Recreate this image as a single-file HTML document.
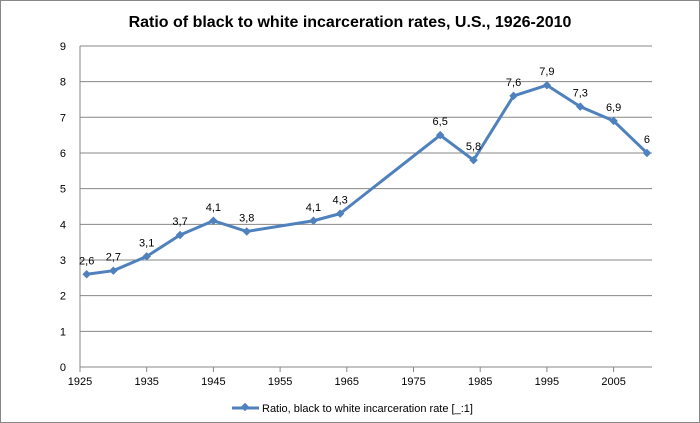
<!DOCTYPE html>
<html><head><meta charset="utf-8"><style>
body{margin:0;background:#fff}
svg{display:block;font-family:"Liberation Sans",sans-serif}
</style></head><body>
<svg id="c" width="700" height="423">
<rect x="0.5" y="0.5" width="699" height="422" fill="#fff" stroke="#888"/>
<text x="350" y="27" text-anchor="middle" font-size="16" font-weight="bold" fill="#000">Ratio of black to white incarceration rates, U.S., 1926-2010</text>
<g id="grid"></g><g id="axes"></g><g id="series"></g>
<g>
<line x1="232" y1="408" x2="259" y2="408" stroke="#4f81bd" stroke-width="3"/>
<rect x="242" y="404" width="6" height="6" fill="#4f81bd" transform="rotate(45 245 407)"/>
<text x="262" y="412" font-size="11">Ratio, black to white incarceration rate [_:1]</text>
</g>
</svg>
<script>
const years=[1926,1930,1935,1940,1945,1950,1960,1964,1979,1984,1990,1995,2000,2005,2010];
const values=[2.6,2.7,3.1,3.7,4.1,3.8,4.1,4.3,6.5,5.8,7.6,7.9,7.3,6.9,6];
const labels=["2,6","2,7","3,1","3,7","4,1","3,8","4,1","4,3","6,5","5,8","7,6","7,9","7,3","6,9","6"];
const xTicks=[1925,1935,1945,1955,1965,1975,1985,1995,2005];
const yTicks=[0,1,2,3,4,5,6,7,8,9];
const NS="http://www.w3.org/2000/svg";
const x=v=>80+(v-1925)*6.67;
const y=v=>367-v*35.67;
function mk(t,a,p){const e=document.createElementNS(NS,t);for(const k in a)e.setAttribute(k,a[k]);p.appendChild(e);return e;}
const g=document.getElementById('grid'),ax=document.getElementById('axes'),s=document.getElementById('series');
yTicks.forEach(v=>{
 const l=mk('line',{x1:80,x2:652,y1:y(v),y2:y(v),stroke:'#878787','stroke-width':1},g);
 
 
 const t=mk('text',{x:66,y:y(v)+4,'font-size':11,'text-anchor':'end'},ax);t.textContent=v;
 
 
});
mk('line',{x1:80,x2:80,y1:y(9),y2:y(0),stroke:'#878787'},ax);
xTicks.forEach(v=>{
 const t=mk('text',{x:x(v),y:385,'font-size':11,'text-anchor':'middle'},ax);t.textContent=v;
 
 
 mk('line',{x1:x(v),x2:x(v),y1:367,y2:372,stroke:'#878787'},ax);
});
const pts=years.map((yr,i)=>x(yr)+','+y(values[i])).join(' ');
const pl=mk('polyline',{points:pts,fill:'none',stroke:'#4f81bd','stroke-width':3,'stroke-linejoin':'round'},s);


years.forEach((yr,i)=>{
 const cx=x(yr),cy=y(values[i]);
 const m=mk('rect',{x:cx-3,y:cy-3,width:6,height:6,fill:'#4f81bd',transform:`rotate(45 ${cx} ${cy})`},s);
 
 
 const t=mk('text',{x:cx,y:cy-10,'font-size':11,'text-anchor':'middle'},s);t.textContent=labels[i];
 
 
});
</script>
</body></html>
